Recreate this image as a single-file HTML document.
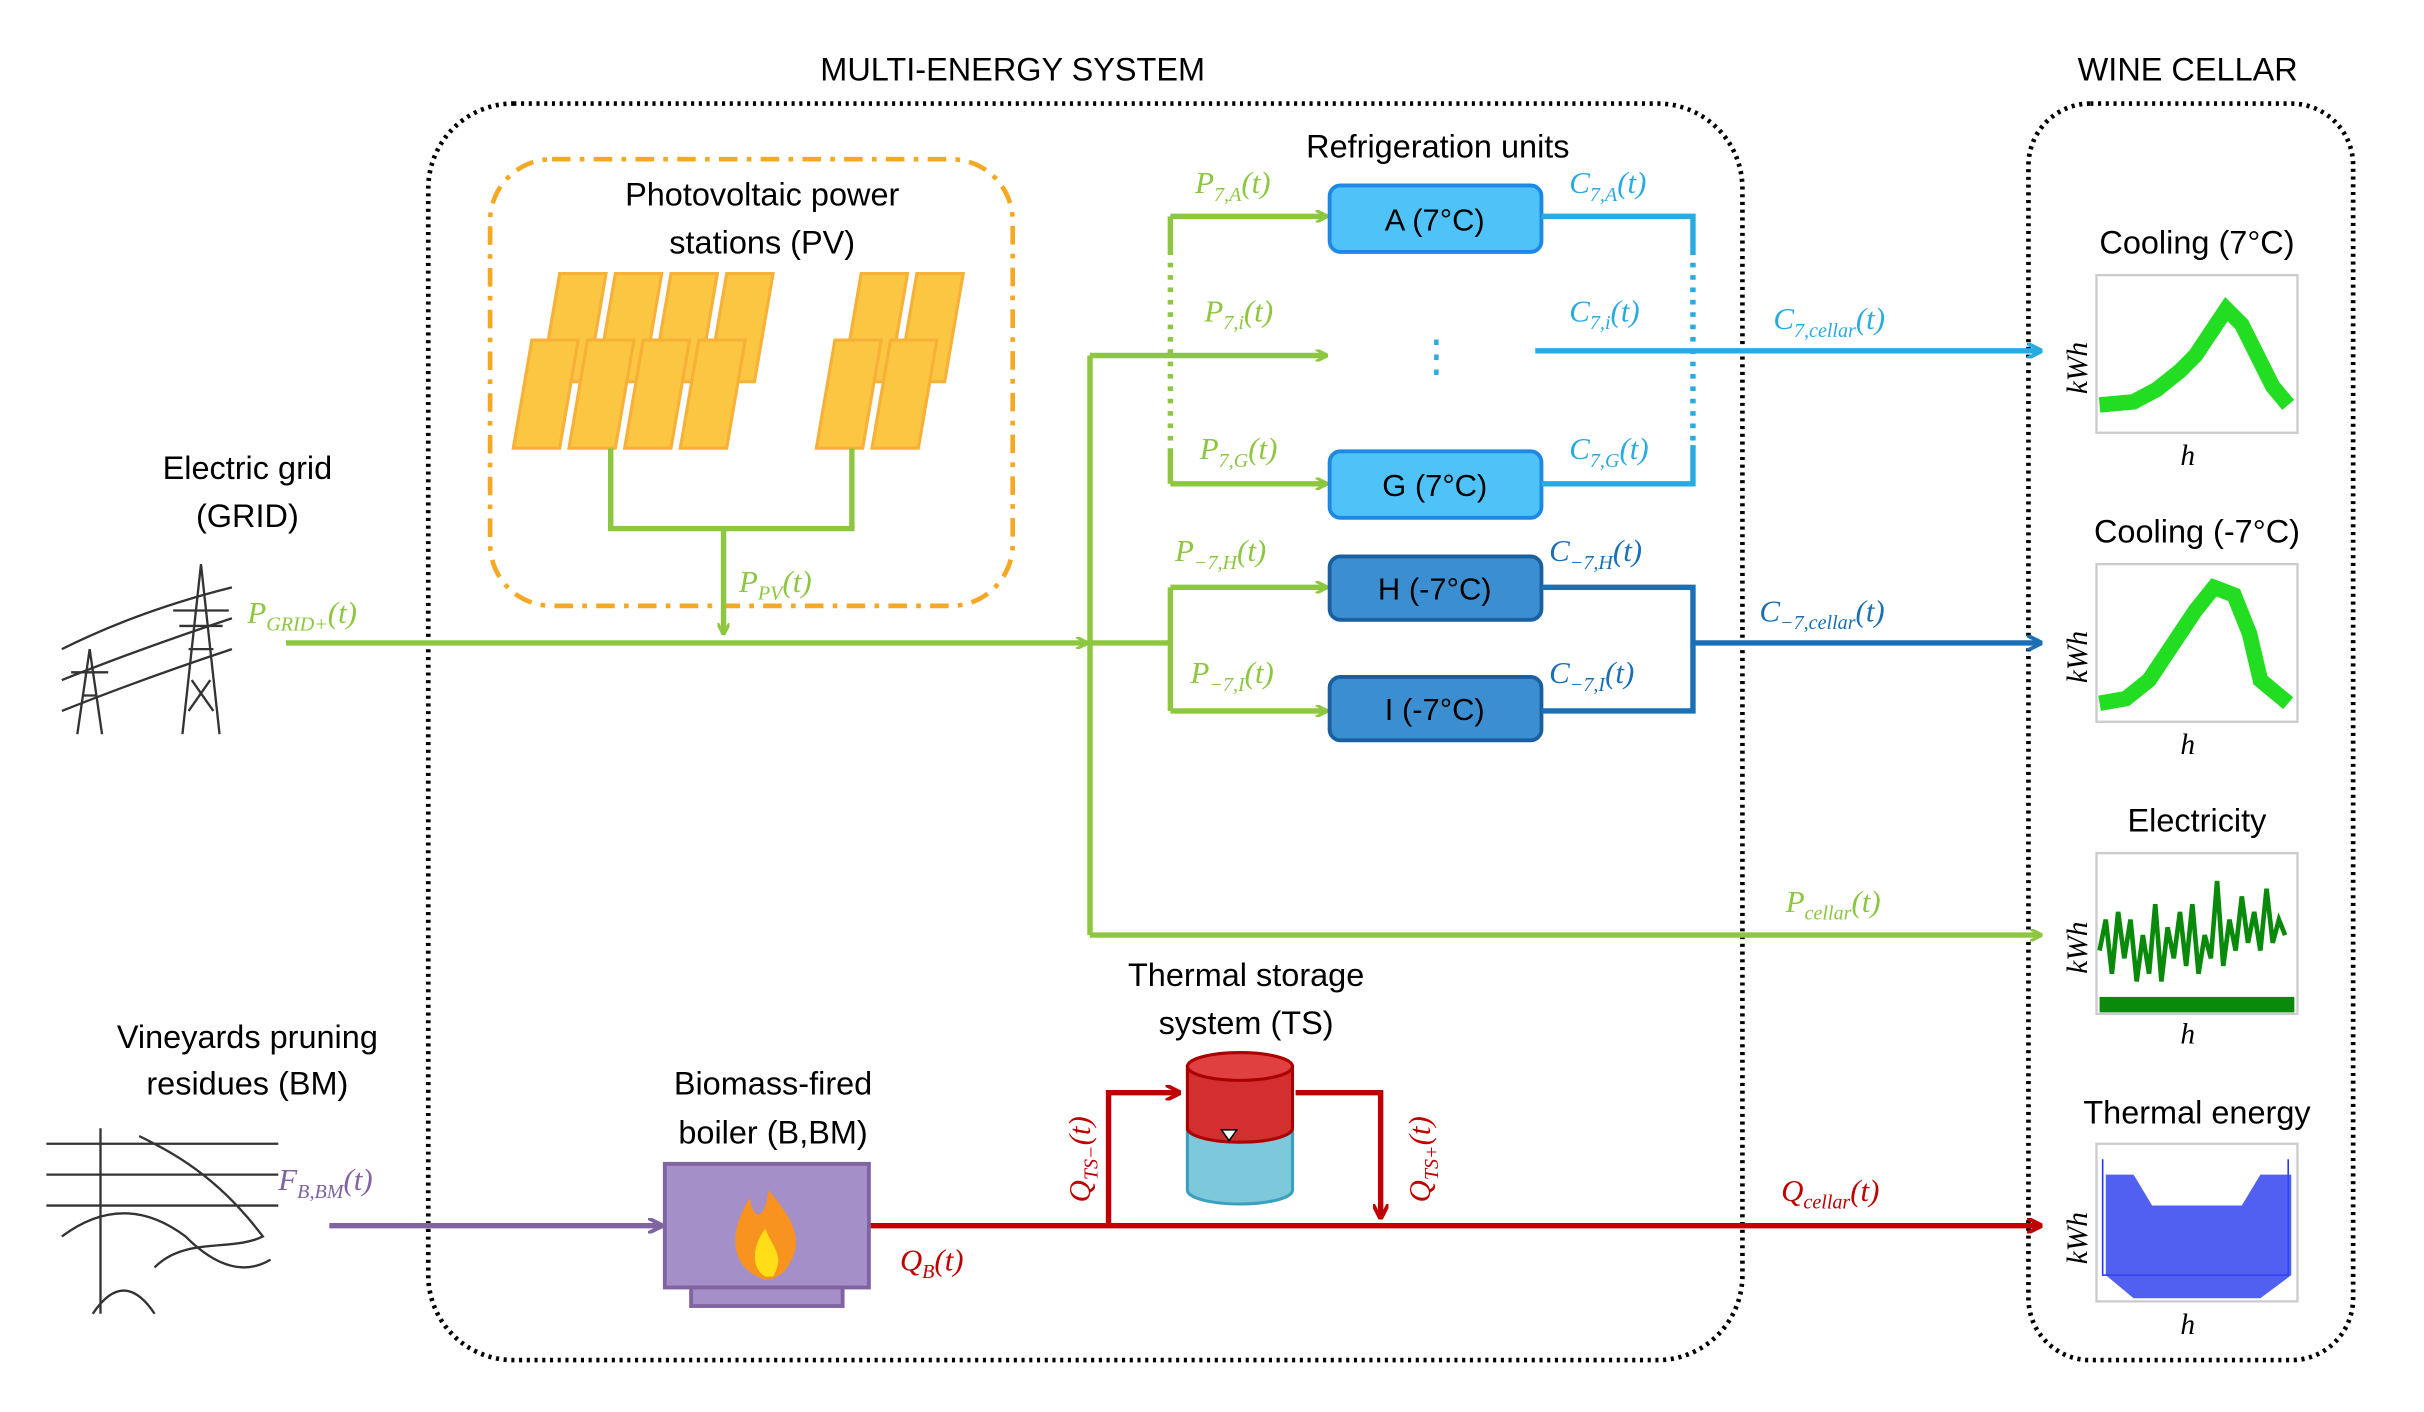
<!DOCTYPE html>
<html><head><meta charset="utf-8"><style>html,body{margin:0;padding:0;background:#fff}svg{display:block}</style></head><body>
<svg width="2424" height="1412" viewBox="0 0 1560 909" preserveAspectRatio="none" xmlns="http://www.w3.org/2000/svg" font-family="Liberation Sans, sans-serif">
<defs>
<marker id="ag" markerWidth="8" markerHeight="8" refX="7" refY="4" orient="auto" markerUnits="userSpaceOnUse"><path d="M0,0 L8,4 L0,8" fill="none" stroke="#8dc63f" stroke-width="2"/></marker>
<marker id="ab" markerWidth="10" markerHeight="10" refX="9" refY="5" orient="auto" markerUnits="userSpaceOnUse"><path d="M0,0 L10,5 L0,10" fill="none" stroke="#29abe2" stroke-width="2.5"/></marker>
<marker id="ad" markerWidth="10" markerHeight="10" refX="9" refY="5" orient="auto" markerUnits="userSpaceOnUse"><path d="M0,0 L10,5 L0,10" fill="none" stroke="#1a6fb5" stroke-width="2.5"/></marker>
<marker id="ar" markerWidth="10" markerHeight="10" refX="9" refY="5" orient="auto" markerUnits="userSpaceOnUse"><path d="M0,0 L10,5 L0,10" fill="none" stroke="#c00000" stroke-width="2.5"/></marker>
<marker id="ap" markerWidth="10" markerHeight="10" refX="9" refY="5" orient="auto" markerUnits="userSpaceOnUse"><path d="M0,0 L10,5 L0,10" fill="none" stroke="#8064a2" stroke-width="2.5"/></marker>
</defs>
<rect width="1560" height="909" fill="#fff"/>
<g transform="scale(0.995)">
<text x="655" y="52" font-size="21" text-anchor="middle">MULTI-ENERGY SYSTEM</text>
<text x="1415" y="52" font-size="21" text-anchor="middle">WINE CELLAR</text>
<rect x="277" y="67" width="850" height="813" rx="55" fill="none" stroke="#000" stroke-width="3" stroke-dasharray="2,3"/>
<rect x="1312" y="67" width="210" height="813" rx="40" fill="none" stroke="#000" stroke-width="3" stroke-dasharray="2,3"/>
<rect x="317" y="103" width="338" height="289" rx="40" fill="none" stroke="#f7a823" stroke-width="3" stroke-dasharray="12,6,3,6"/>
<text x="493" y="133" font-size="21" text-anchor="middle">Photovoltaic power</text>
<text x="493" y="164" font-size="21" text-anchor="middle">stations (PV)</text>
<g fill="#fbc02d" stroke="#f7a823" stroke-width="2" opacity="0.9">
<path d="M362,177 h30 l-12,70 h-30z"/><path d="M398,177 h30 l-12,70 h-30z"/><path d="M434,177 h30 l-12,70 h-30z"/><path d="M470,177 h30 l-12,70 h-30z"/>
<path d="M344,220 h30 l-12,70 h-30z"/><path d="M380,220 h30 l-12,70 h-30z"/><path d="M416,220 h30 l-12,70 h-30z"/><path d="M452,220 h30 l-12,70 h-30z"/>
<path d="M557,177 h30 l-12,70 h-30z"/><path d="M593,177 h30 l-12,70 h-30z"/>
<path d="M540,220 h30 l-12,70 h-30z"/><path d="M576,220 h30 l-12,70 h-30z"/>
</g>
<g fill="none" stroke="#8dc63f" stroke-width="3.5">
<path d="M395,290 V342 H551 V290"/>
<path d="M468,342 V410" marker-end="url(#ag)"/>
<path d="M185,416 H703" marker-end="url(#ag)"/>
<path d="M705,230 V605"/>
<path d="M705,230 H858" marker-end="url(#ag)"/>
<path d="M705,416 H757"/>
<path d="M757,380 V460"/>
<path d="M757,380 H858" marker-end="url(#ag)"/>
<path d="M757,460 H858" marker-end="url(#ag)"/>
<path d="M757,140 V165 M757,290 V313"/>
<path d="M757,170 V285" stroke-dasharray="3,5"/>
<path d="M757,140 H858" marker-end="url(#ag)"/>
<path d="M757,313 H858" marker-end="url(#ag)"/>
<path d="M705,605 H1320" marker-end="url(#ag)"/>
</g>
<g font-size="20" text-anchor="middle">
<rect x="860" y="120" width="137" height="43" rx="7" fill="#4fc3f7" stroke="#1e88e5" stroke-width="2.5"/><text x="928" y="149">A (7°C)</text>
<rect x="860" y="292" width="137" height="43" rx="7" fill="#4fc3f7" stroke="#1e88e5" stroke-width="2.5"/><text x="928" y="321">G (7°C)</text>
<rect x="860" y="360" width="137" height="41" rx="7" fill="#3b8fd1" stroke="#1a5fa0" stroke-width="2.5"/><text x="928" y="388">H (-7°C)</text>
<rect x="860" y="438" width="137" height="41" rx="7" fill="#3b8fd1" stroke="#1a5fa0" stroke-width="2.5"/><text x="928" y="466">I  (-7°C)</text>
</g>
<text x="930" y="102" font-size="21" text-anchor="middle">Refrigeration units</text>
<text x="929" y="240" font-size="28" fill="#29abe2" text-anchor="middle">⋮</text>
<g fill="none" stroke="#29abe2" stroke-width="3.5">
<path d="M997,140 H1095 V165 M997,313 H1095 V288"/>
<path d="M1095,170 V285" stroke-dasharray="3,5"/>
<path d="M993,227 H1320" marker-end="url(#ab)"/>
</g>
<g fill="none" stroke="#1a6fb5" stroke-width="3.5">
<path d="M997,380 H1095 V460 H997"/>
<path d="M1095,416 H1320" marker-end="url(#ad)"/>
</g>
<g fill="none" stroke="#c00000" stroke-width="3.5">
<path d="M560,793 H1320" marker-end="url(#ar)"/>
<path d="M717,793 V707 H763" marker-end="url(#ar)"/>
<path d="M838,707 H893 V788" marker-end="url(#ar)"/>
</g>
<path d="M213,793 H428" fill="none" stroke="#8064a2" stroke-width="3.5" marker-end="url(#ap)"/>
<rect x="430" y="753" width="132" height="80" fill="#a58fc9" stroke="#8064a2" stroke-width="2.5"/>
<rect x="447" y="833" width="98" height="12" fill="#a58fc9" stroke="#8064a2" stroke-width="2.5"/>
<path d="M495,828 C470,820 472,795 485,775 C487,790 495,790 497,770 C510,785 520,800 512,815 C508,825 500,828 495,828Z" fill="#f7931e"/>
<path d="M495,826 C485,820 487,805 495,795 C500,808 508,812 500,826Z" fill="#ffde17"/>
<text x="500" y="708" font-size="21" text-anchor="middle">Biomass-fired</text>
<text x="500" y="740" font-size="21" text-anchor="middle">boiler (B,BM)</text>
<text x="806" y="638" font-size="21" text-anchor="middle">Thermal storage</text>
<text x="806" y="669" font-size="21" text-anchor="middle">system (TS)</text>
<path d="M768,730 V770 A34,9 0 0 0 836,770 V730Z" fill="#7ec8dc" stroke="#3aa0c0" stroke-width="2"/>
<path d="M768,690 V730 A34,9 0 0 0 836,730 V690Z" fill="#d32f2f" stroke="#a00" stroke-width="2"/>
<ellipse cx="802" cy="690" rx="34" ry="9" fill="#e04040" stroke="#a00" stroke-width="2"/>
<path d="M790,731 L800,731 L795,738Z" fill="#fff" stroke="#000"/>
<text x="160" y="310" font-size="21" text-anchor="middle">Electric grid</text>
<text x="160" y="341" font-size="21" text-anchor="middle">(GRID)</text>
<text x="160" y="678" font-size="21" text-anchor="middle">Vineyards pruning</text>
<text x="160" y="708" font-size="21" text-anchor="middle">residues (BM)</text>
<g stroke="#333" stroke-width="1.5" fill="none">
<path d="M118,475 L130,365 L142,475 M122,420 H138 M112,395 H148 M116,405 L144,405 M124,440 L138,460 M136,440 L122,460"/>
<path d="M50,475 L58,420 L66,475 M46,435 H70 M53,450 H63"/>
<path d="M40,420 Q90,395 150,380 M40,440 Q90,420 150,400 M40,460 Q90,440 150,420"/>
<path d="M30,740 H180 M30,760 H180 M30,780 H180 M65,730 V850 M90,735 C110,745 140,760 170,800 C150,810 120,800 100,820"/>
<path d="M40,800 Q80,770 120,800 Q150,830 175,815 M60,850 Q80,820 100,850"/>
</g>
<g font-family="Liberation Serif, serif" font-style="italic" font-size="20">
<text x="160" y="403" fill="#8dc63f">P<tspan font-size="13" dy="5">GRID+</tspan><tspan dy="-5">(t)</tspan></text>
<text x="478" y="383" fill="#8dc63f">P<tspan font-size="13" dy="5">PV</tspan><tspan dy="-5">(t)</tspan></text>
<text x="773" y="125" fill="#8dc63f">P<tspan font-size="13" dy="5">7,A</tspan><tspan dy="-5">(t)</tspan></text>
<text x="779" y="208" fill="#8dc63f">P<tspan font-size="13" dy="5">7,i</tspan><tspan dy="-5">(t)</tspan></text>
<text x="776" y="297" fill="#8dc63f">P<tspan font-size="13" dy="5">7,G</tspan><tspan dy="-5">(t)</tspan></text>
<text x="760" y="363" fill="#8dc63f">P<tspan font-size="13" dy="5">−7,H</tspan><tspan dy="-5">(t)</tspan></text>
<text x="770" y="442" fill="#8dc63f">P<tspan font-size="13" dy="5">−7,I</tspan><tspan dy="-5">(t)</tspan></text>
<text x="1155" y="590" fill="#8dc63f">P<tspan font-size="13" dy="5">cellar</tspan><tspan dy="-5">(t)</tspan></text>
<text x="1015" y="125" fill="#29abe2">C<tspan font-size="13" dy="5">7,A</tspan><tspan dy="-5">(t)</tspan></text>
<text x="1015" y="208" fill="#29abe2">C<tspan font-size="13" dy="5">7,i</tspan><tspan dy="-5">(t)</tspan></text>
<text x="1015" y="297" fill="#29abe2">C<tspan font-size="13" dy="5">7,G</tspan><tspan dy="-5">(t)</tspan></text>
<text x="1147" y="213" fill="#29abe2">C<tspan font-size="13" dy="5">7,cellar</tspan><tspan dy="-5">(t)</tspan></text>
<text x="1002" y="363" fill="#1a6fb5">C<tspan font-size="13" dy="5">−7,H</tspan><tspan dy="-5">(t)</tspan></text>
<text x="1002" y="442" fill="#1a6fb5">C<tspan font-size="13" dy="5">−7,I</tspan><tspan dy="-5">(t)</tspan></text>
<text x="1138" y="402" fill="#1a6fb5">C<tspan font-size="13" dy="5">−7,cellar</tspan><tspan dy="-5">(t)</tspan></text>
<text x="180" y="770" fill="#8064a2">F<tspan font-size="13" dy="5">B,BM</tspan><tspan dy="-5">(t)</tspan></text>
<text x="582" y="822" fill="#c00000">Q<tspan font-size="13" dy="5">B</tspan><tspan dy="-5">(t)</tspan></text>
<text x="1152" y="777" fill="#c00000">Q<tspan font-size="13" dy="5">cellar</tspan><tspan dy="-5">(t)</tspan></text>
<text transform="translate(705,778) rotate(-90)" fill="#c00000">Q<tspan font-size="13" dy="5">TS−</tspan><tspan dy="-5">(t)</tspan></text>
<text transform="translate(925,778) rotate(-90)" fill="#c00000">Q<tspan font-size="13" dy="5">TS+</tspan><tspan dy="-5">(t)</tspan></text>
</g>
<g font-size="21" text-anchor="middle">
<text x="1421" y="164">Cooling (7°C)</text>
<text x="1421" y="351">Cooling (-7°C)</text>
<text x="1421" y="538">Electricity</text>
<text x="1421" y="727">Thermal energy</text>
</g>
<g fill="#fff" stroke="#ccc" stroke-width="1.5">
<rect x="1356" y="178" width="130" height="102"/><rect x="1356" y="365" width="130" height="102"/>
<rect x="1356" y="552" width="130" height="104"/><rect x="1356" y="740" width="130" height="102"/>
</g>
<path d="M1358,262 L1380,260 L1395,252 L1410,240 L1420,230 L1430,215 L1440,200 L1450,210 L1460,230 L1470,250 L1480,262" fill="none" stroke="#22dd22" stroke-width="10"/>
<path d="M1358,455 L1375,452 L1390,440 L1400,425 L1410,410 L1420,395 L1432,380 L1445,385 L1455,410 L1462,440 L1480,455" fill="none" stroke="#22dd22" stroke-width="10"/>
<path d="M1358,615 l4,-20 l4,35 l4,-40 l4,30 l4,-25 l4,40 l4,-30 l4,25 l4,-45 l4,50 l4,-35 l4,20 l4,-30 l4,35 l4,-40 l4,45 l4,-25 l4,15 l4,-50 l4,55 l4,-30 l4,20 l4,-35 l4,30 l4,-20 l4,25 l4,-40 l4,35 l4,-15 l4,10" fill="none" stroke="#0a8a0a" stroke-width="3"/>
<rect x="1358" y="645" width="126" height="10" fill="#0a8a0a"/>
<path d="M1360,750 V825 H1480 V750" fill="none" stroke="#2233ee" stroke-width="1"/>
<path d="M1362,760 L1380,760 L1392,780 L1450,780 L1462,760 L1482,760 L1482,825 L1462,840 L1380,840 L1362,825Z" fill="#3344ee" opacity="0.85"/>
<g font-family="Liberation Serif, serif" font-style="italic" font-size="19">
<text x="1415" y="301" text-anchor="middle">h</text><text x="1415" y="488" text-anchor="middle">h</text>
<text x="1415" y="675" text-anchor="middle">h</text><text x="1415" y="863" text-anchor="middle">h</text>
<text transform="translate(1350,255) rotate(-90)">kWh</text><text transform="translate(1350,442) rotate(-90)">kWh</text>
<text transform="translate(1350,630) rotate(-90)">kWh</text><text transform="translate(1350,818) rotate(-90)">kWh</text>
</g>
</g>
</svg>
</body></html>
